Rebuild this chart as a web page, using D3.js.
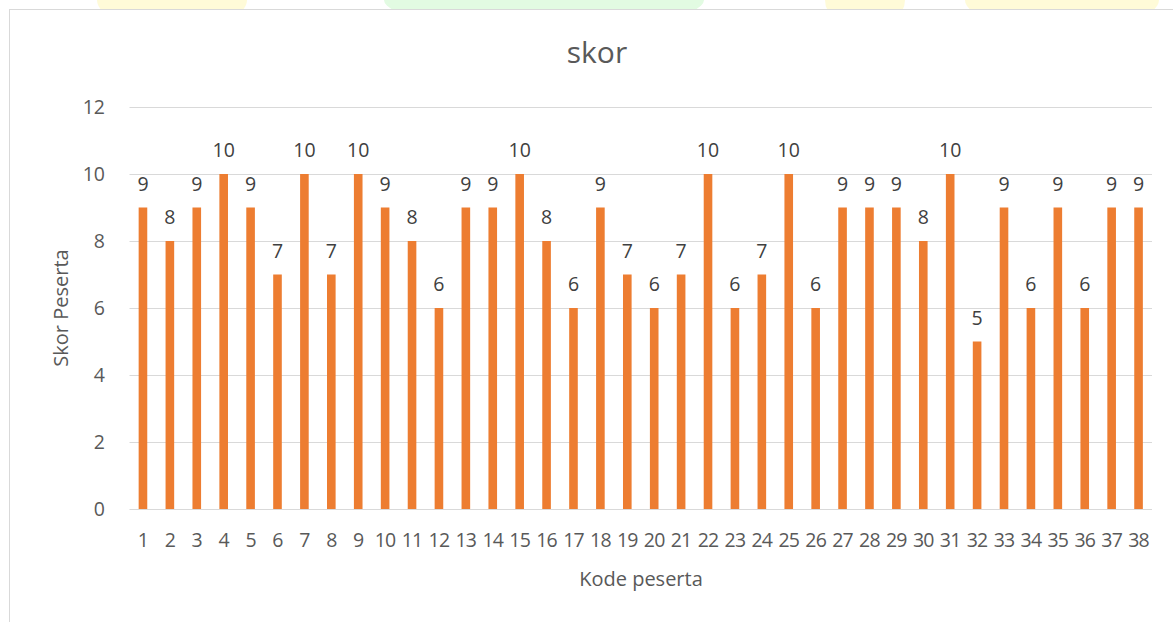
<!DOCTYPE html>
<html>
<head>
<meta charset="utf-8">
<script src="https://cdn.jsdelivr.net/npm/d3@7/dist/d3.min.js"></script>
<style>
  body { margin: 0; background: #fff; }
  text { font-family: "Open Sans", "Noto Sans", sans-serif; }
</style>
</head>
<body>
<div id="chart"></div>
<script>
// Kode peserta 1..38 and their scores
const kode = d3.range(1, 39).map(String);
const skor = [9, 8, 9, 10, 9, 7, 10, 7, 10, 9, 8, 6, 9, 9, 10, 8, 6, 9, 7, 6,
              7, 10, 6, 7, 10, 6, 9, 9, 9, 8, 10, 5, 9, 6, 9, 6, 9, 9];
const yTicks = [0, 2, 4, 6, 8, 10, 12];

const width = 1173, height = 622;
const margin = {left: 129.5, right: 21, top: 107, bottom: 113};

const svg = d3.select("#chart").append("svg")
  .attr("width", width)
  .attr("height", height);

// faint watermark blobs peeking above the chart frame
const blobs = [
  {cx: 172, rx: 75, c: "#fffbd8"},
  {cx: 544, rx: 160, c: "#e2fbe2"},
  {cx: 865, rx: 40, c: "#fffbd8"},
  {cx: 1062, rx: 97, c: "#fffbd8"}
];
svg.selectAll("ellipse.blob")
  .data(blobs)
  .enter().append("ellipse")
  .attr("cx", d => d.cx)
  .attr("cy", 0)
  .attr("rx", d => d.rx)
  .attr("ry", 30)
  .attr("fill", d => d.c);

// chart frame
svg.append("rect")
  .attr("x", 9.5)
  .attr("y", 9.5)
  .attr("width", width + 10)
  .attr("height", height)
  .attr("fill", "#fff")
  .attr("stroke", "#d9d9d9");

const x = d3.scaleBand()
  .domain(kode)
  .range([margin.left, width - margin.right])
  .paddingInner(0.68)
  .paddingOuter(0.34);

const y = d3.scaleLinear()
  .domain([0, 12])
  .range([height - margin.bottom, margin.top]);

// gridlines
svg.append("g")
  .selectAll("line")
  .data(yTicks)
  .enter().append("line")
  .attr("x1", margin.left)
  .attr("x2", width - margin.right)
  .attr("y1", d => Math.round(y(d)) + 0.5)
  .attr("y2", d => Math.round(y(d)) + 0.5)
  .attr("stroke", "#d9d9d9")
  .attr("stroke-width", 1);

// y tick labels
svg.append("g")
  .selectAll("text")
  .data(yTicks)
  .enter().append("text")
  .attr("x", 105)
  .attr("y", d => y(d))
  .attr("dy", "0.35em")
  .attr("text-anchor", "end")
  .attr("font-size", 19.5)
  .attr("fill", "#595959")
  .text(d => d);

// bars
svg.append("g")
  .selectAll("rect")
  .data(skor)
  .enter().append("rect")
  .attr("x", (d, i) => x(kode[i]))
  .attr("width", x.bandwidth())
  .attr("y", d => y(d))
  .attr("height", d => y(0) - y(d))
  .attr("fill", "#ed7d31");

// data labels
svg.append("g")
  .selectAll("text")
  .data(skor)
  .enter().append("text")
  .attr("x", (d, i) => x(kode[i]) + x.bandwidth() / 2)
  .attr("y", d => y(d) - 17)
  .attr("text-anchor", "middle")
  .attr("font-size", 19.5)
  .attr("fill", "#404040")
  .text(d => d);

// x tick labels
svg.append("g")
  .selectAll("text")
  .data(kode)
  .enter().append("text")
  .attr("x", d => x(d) + x.bandwidth() / 2)
  .attr("y", height - margin.bottom + 38)
  .attr("text-anchor", "middle")
  .attr("font-size", 19.5)
  .attr("fill", "#595959")
  .attr("letter-spacing", "-0.8px")
  .text(d => d);

// title
svg.append("text")
  .attr("x", 597)
  .attr("y", 63)
  .attr("text-anchor", "middle")
  .attr("font-size", 30)
  .attr("fill", "#595959")
  .text("skor");

// axis titles
svg.append("text")
  .attr("x", 641)
  .attr("y", 586)
  .attr("text-anchor", "middle")
  .attr("font-size", 20)
  .attr("fill", "#595959")
  .text("Kode peserta");

svg.append("text")
  .attr("transform", "translate(68,308) rotate(-90)")
  .attr("text-anchor", "middle")
  .attr("font-size", 20)
  .attr("fill", "#595959")
  .text("Skor Peserta");
</script>
</body>
</html>
